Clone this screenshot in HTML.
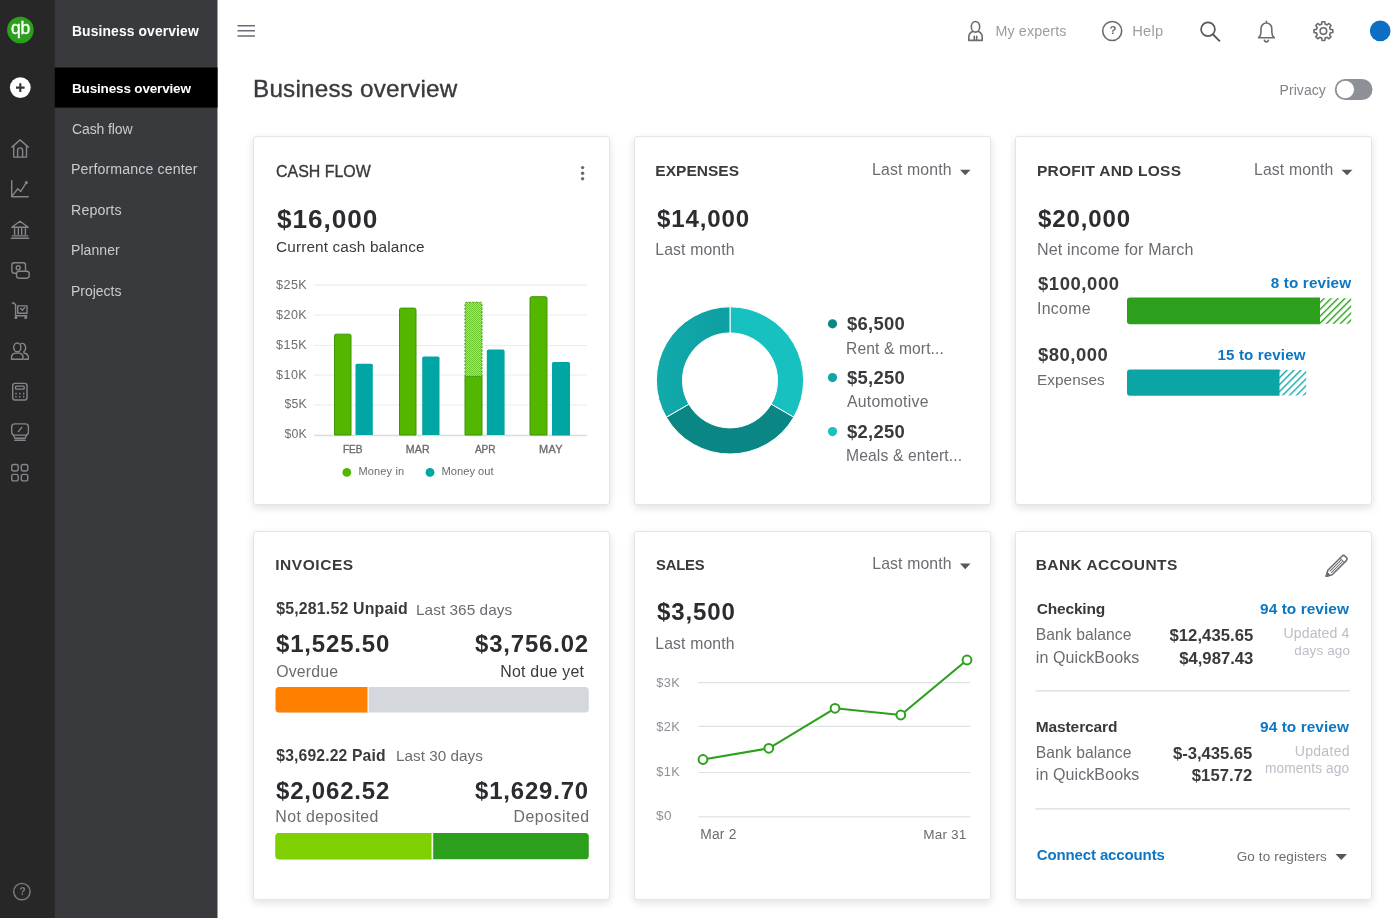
<!DOCTYPE html>
<html lang="en">
<head>
<meta charset="utf-8">
<title>Business overview</title>
<style>
*{box-sizing:border-box;margin:0;padding:0}
html,body{width:1400px;height:918px;overflow:hidden;background:#fff;font-family:"Liberation Sans",sans-serif;color:#393a3d}
body{position:relative}
.t{position:absolute;white-space:nowrap;line-height:1;font-kerning:normal;transform-origin:0 50%}
.card{position:absolute;width:357px;height:369px;background:#fff;border:1px solid #e4e5e8;border-radius:3px;box-shadow:0 3px 9px rgba(0,0,0,.12)}
#gfx{position:absolute;left:0;top:0;width:1400px;height:918px}
</style>
</head>
<body>
<div class="card" style="left:253px;top:136px"></div>
<div class="card" style="left:634px;top:136px"></div>
<div class="card" style="left:1015px;top:136px"></div>
<div class="card" style="left:253px;top:531px"></div>
<div class="card" style="left:634px;top:531px"></div>
<div class="card" style="left:1015px;top:531px"></div>
<svg id="gfx" viewBox="0 0 1400 918" width="1400" height="918">
<defs>
<pattern id="hg" width="4.9" height="4.9" patternUnits="userSpaceOnUse" patternTransform="rotate(-45)"><rect width="4.9" height="4.9" fill="#fff"/><rect width="4.9" height="1.35" fill="#2ca01c"/></pattern>
<pattern id="ht" width="4.9" height="4.9" patternUnits="userSpaceOnUse" patternTransform="rotate(-45)"><rect width="4.9" height="4.9" fill="#fff"/><rect width="4.9" height="1.35" fill="#0ca5a5"/></pattern>
<pattern id="hx" width="2" height="2" patternUnits="userSpaceOnUse"><rect width="2" height="2" fill="#a9e47a"/><rect width="1" height="1" fill="#6cc62e"/><rect x="1" y="1" width="1" height="1" fill="#6cc62e"/></pattern>
<linearGradient id="dg" gradientUnits="userSpaceOnUse" x1="656" y1="0" x2="730" y2="0"><stop offset="0" stop-color="#12aaab"/><stop offset="1" stop-color="#0d9fa2"/></linearGradient>
</defs>
<rect id="bgside" x="0" y="0" width="217.5" height="918" fill="#393a3d"/>
<rect x="0" y="0" width="54.8" height="918" fill="#272727"/>
<rect x="54.8" y="67.5" width="162.7" height="40.1" fill="#000"/>
<!-- rail: logo + plus -->
<circle cx="20.4" cy="30" r="13.3" fill="#2ca01c"/>
<circle cx="20.3" cy="87.6" r="10.4" fill="#fff"/>
<path d="M16 87.6H24.6M20.3 83.3V91.9" stroke="#333437" stroke-width="2.1" fill="none"/>
<!-- rail icons -->
<g fill="none" stroke="#84868b" stroke-width="1.4" stroke-linecap="round" stroke-linejoin="round">
<path d="M11.9 147.1L20.1 139.9L28.3 147.1M13.7 146V157.1H26.5V146M17.6 157.1V150.4a2.5 2.5 0 0 1 5 0V157.1"/>
<path d="M11.7 180.6V196.8H28.2M12.6 195.4L17.8 188.7L20.7 191.5L25.8 183.4"/>
<circle cx="26.3" cy="182.6" r="0.9" fill="#8d9096"/>
<path d="M11.8 227.2L20 221.2L28.2 227.2ZM14.6 228.6V234.4M18.3 228.6V234.4M21.7 228.6V234.4M25.4 228.6V234.4M12.4 235.9H27.6M11.4 238.3H28.6"/>
<rect x="11.9" y="262.7" width="13.6" height="10.6" rx="2.2"/>
<circle cx="18.2" cy="267.8" r="2"/>
<rect x="16.5" y="271.2" width="12.7" height="7" rx="2.6" fill="#262626"/>
<path d="M12.3 303H13.9L15.6 305V315.7H26.8M17.7 305.9H27V313.3H17.7ZM20.8 308.6L22.3 310.2L24.6 307.6"/>
<circle cx="15.9" cy="317.4" r="0.8"/><circle cx="25.7" cy="317.4" r="0.8"/>
<path d="M21.2 343.6a3.5 4.3 0 0 1 2.6 7.9M23.8 353c2.6 0.3 4.5 2.2 4.5 4.6V359.2H24.3"/>
<ellipse cx="17.3" cy="347.4" rx="3.6" ry="4.4"/>
<path d="M11.5 359.2V357.4a4.3 4.3 0 0 1 4.3-4.3h3a4.3 4.3 0 0 1 4.3 4.3V359.2Z"/>
<rect x="12.7" y="383.4" width="14.3" height="16.6" rx="2.3"/>
<rect x="15.5" y="386.1" width="8.7" height="3" rx="0.8"/>
<path d="M16 393.2V393.9M19.85 393.2V393.9M23.7 393.2V393.9M16 396.4V397.1M19.85 396.4V397.1M23.7 396.4V397.1"/>
<rect x="11.7" y="423.9" width="16.7" height="11.2" rx="3"/>
<path d="M13.4 435.3L14.9 438.2H25.1L26.6 435.3M14.9 440.3H25.1M18.4 431.6L21.7 427.4"/>
<rect x="11.7" y="464.5" width="6.5" height="6.5" rx="2"/><rect x="21.3" y="464.5" width="6.5" height="6.5" rx="2"/>
<rect x="11.7" y="474.4" width="6.5" height="6.5" rx="2"/><rect x="21.3" y="474.4" width="6.5" height="6.5" rx="2"/>
<circle cx="21.9" cy="891.6" r="8.2" stroke="#7b7d82"/>
</g>
<!-- top bar -->
<g fill="none" stroke="#6b6c72" stroke-width="1.6" stroke-linecap="round" stroke-linejoin="round">
<path d="M237.5 25.8H255M237.5 30.8H255M237.5 36H255" stroke-linecap="butt"/>
<ellipse cx="975.5" cy="26.8" rx="4.2" ry="5.3"/>
<path d="M972.6 31.6c-2.3 1-3.8 2.9-3.8 5.6V40.4H982.2V37.2c0-2.7-1.5-4.6-3.8-5.600M974.3 36.200V40.200M976.7 36.200V40.200"/>
<circle cx="1112.2" cy="31" r="9.5"/>
<circle cx="1208" cy="29.2" r="6.900" stroke="#55575c" stroke-width="1.7"/>
<path d="M1213.100 34.500L1219.400 40.800" stroke="#55575c" stroke-width="1.9"/>
<path d="M1266.4 21.2V22.6M1258.6 37.7c1.9-1.5 2.4-3.2 2.4-5.7v-3.6a5.4 5.4 0 0 1 10.8 0v3.6c0 2.5 0.5 4.2 2.4 5.700ZM1264.400 40.3a2.050 2.050 0 0 0 4 0"/>
<circle cx="1323.400" cy="31.100" r="3.300"/>
<path d="M1321.99 21.71L1324.81 21.71L1325.14 24.11L1327.11 24.93L1329.04 23.46L1331.04 25.46L1329.57 27.39L1330.39 29.36L1332.79 29.69L1332.79 32.51L1330.39 32.84L1329.57 34.81L1331.04 36.74L1329.04 38.74L1327.11 37.27L1325.14 38.09L1324.81 40.49L1321.99 40.49L1321.66 38.09L1319.69 37.27L1317.76 38.74L1315.76 36.74L1317.23 34.81L1316.41 32.84L1314.01 32.51L1314.01 29.69L1316.41 29.36L1317.23 27.39L1315.76 25.46L1317.76 23.46L1319.69 24.93L1321.66 24.11Z"/>
</g>
<circle cx="1380.200" cy="30.900" r="10.300" fill="#0d6fc4"/>
<rect x="1334.800" y="79" width="37.700" height="21" rx="10.500" fill="#8d9096"/>
<circle cx="1345.300" cy="89.500" r="9.200" fill="#fff" stroke="#8d9096" stroke-width="1"/>
<g fill="#6b6c72"><circle cx="582.600" cy="167.600" r="1.700"/><circle cx="582.600" cy="173.200" r="1.700"/><circle cx="582.600" cy="178.700" r="1.700"/></g>
<!-- card 1: cash flow chart -->
<g stroke="#ebeced" stroke-width="1.2" fill="none">
<path d="M314 285.200H587M314 315H587M314 345.500H587M314 375H587M314 405H587"/>
<path d="M314 435.500H587" stroke="#d9dbdf" stroke-width="1.4"/>
</g>
<g stroke="#3f9409" stroke-width="1" fill="#53b700">
<path d="M334.500 435V335.800a1.600 1.600 0 0 1 1.600-1.600h13.300a1.600 1.600 0 0 1 1.600 1.600V435Z"/>
<path d="M399.500 435V309.700a1.600 1.600 0 0 1 1.600-1.600h13.300a1.600 1.600 0 0 1 1.600 1.600V435Z"/>
<path d="M465 435V376.300H482V435Z"/>
<path d="M530 435V298.300a1.600 1.600 0 0 1 1.600-1.600h13.800a1.600 1.600 0 0 1 1.600 1.600V435Z"/>
</g>
<path d="M465 376.300V303.900a1.600 1.600 0 0 1 1.600-1.600h13.800a1.600 1.600 0 0 1 1.600 1.600V376.300Z" fill="url(#hx)" stroke="#3f9409" stroke-width="1" stroke-dasharray="2 1.500"/>
<g fill="#00a6a4">
<path d="M355.500 435V365.300a1.600 1.600 0 0 1 1.600-1.600h14.100a1.600 1.600 0 0 1 1.600 1.600V435Z"/>
<path d="M422.200 435V358.200a1.600 1.600 0 0 1 1.600-1.600h14.100a1.600 1.600 0 0 1 1.600 1.600V435Z"/>
<path d="M486.800 435V351a1.600 1.600 0 0 1 1.600-1.600h14.600a1.600 1.600 0 0 1 1.600 1.600V435Z"/>
<path d="M552 435.600V363.700a1.600 1.600 0 0 1 1.600-1.600h14.800a1.600 1.600 0 0 1 1.600 1.600V435.600Z"/>
</g>
<circle cx="346.800" cy="472.400" r="4.400" fill="#53b700"/>
<circle cx="430" cy="472.400" r="4.400" fill="#00a6a4"/>
<!-- card 2: donut -->
<g stroke="#fff" stroke-width="1" stroke-linejoin="round">
<path d="M730.00 306.80A73.6 73.6 0 0 1 793.74 417.20L771.14 404.15A47.5 47.5 0 0 0 730.00 332.90Z" fill="#17c1c0"/>
<path d="M793.74 417.20A73.6 73.6 0 0 1 666.26 417.20L688.86 404.15A47.5 47.5 0 0 0 771.14 404.15Z" fill="#0a8784"/>
<path d="M666.26 417.20A73.6 73.6 0 0 1 730.00 306.80L730.00 332.90A47.5 47.5 0 0 0 688.86 404.15Z" fill="url(#dg)"/>
</g>
<circle cx="832.500" cy="323.800" r="4.600" fill="#0a8784"/>
<circle cx="832.500" cy="377.600" r="4.600" fill="#10a6a8"/>
<circle cx="832.500" cy="431.600" r="4.600" fill="#17c1c0"/>
<!-- carets -->
<g fill="#55575c">
<path d="M960 169.800H970.500L965.250 175.300Z"/>
<path d="M1341.500 169.800H1352.500L1347 175.300Z"/>
<path d="M960 563.600H970.500L965.250 569.300Z"/>
<path d="M1335.500 853.900H1347L1341.250 860Z"/>
</g>
<!-- card 3: P&L bars -->
<rect x="1319" y="298.200" width="32.200" height="25.600" fill="url(#hg)"/>
<path d="M1130 297.600H1320V324.200H1130a3 3 0 0 1-3-3V300.600a3 3 0 0 1 3-3Z" fill="#2ca01c"/>
<rect x="1278.500" y="370" width="27.700" height="25.400" fill="url(#ht)"/>
<path d="M1130 369.400H1279.500V395.800H1130a3 3 0 0 1-3-3V372.400a3 3 0 0 1 3-3Z" fill="#0ca5a5"/>
<!-- card 4: invoice bars -->
<rect x="275.600" y="687" width="313.200" height="25.600" rx="3.500" fill="#d4d7dc"/>
<path d="M279.100 687H367.600V712.600H279.100a3.500 3.500 0 0 1-3.500-3.500V690.500a3.500 3.500 0 0 1 3.500-3.500Z" fill="#ff8000"/>
<rect x="367.600" y="687" width="1.400" height="25.600" fill="#f4f0ea"/>
<rect x="275.600" y="833" width="313.200" height="26.200" rx="3.500" fill="#2ca01c"/>
<path d="M279.100 833H431.400V859.200H279.100a3.500 3.500 0 0 1-3.500-3.500V836.500a3.500 3.500 0 0 1 3.500-3.500Z" fill="#7fd000"/>
<rect x="431.400" y="833" width="1.800" height="26.200" fill="#f2f8ea"/>
<!-- card 5: sales -->
<g stroke="#dfe1e4" stroke-width="1.200" fill="none">
<path d="M698 682.600H970M698 726.400H970M698 772.500H970M698 816.800H970"/>
</g>
<path d="M703 759.500L768.800 748.300L835 708.300L900.800 715L967 660" fill="none" stroke="#2ca01c" stroke-width="2.100" stroke-linejoin="round"/>
<g fill="#fff" stroke="#2ca01c" stroke-width="2">
<circle cx="703" cy="759.500" r="4.400"/><circle cx="768.800" cy="748.300" r="4.400"/><circle cx="835" cy="708.300" r="4.400"/><circle cx="900.800" cy="715" r="4.400"/><circle cx="967" cy="660" r="4.400"/>
</g>
<!-- card 6 -->
<path d="M1035.500 690.800H1350M1035.500 808.800H1350" stroke="#d9dbdf" stroke-width="1.200" fill="none"/>
<g fill="none" stroke="#6b6c72" stroke-width="1.500" stroke-linejoin="round" stroke-linecap="round">
<g transform="translate(1326.2 576.3) rotate(-45)"><path d="M0 0L5.4-3.1H25.3a2.3 2.3 0 0 1 2.3 2.3V0.8a2.3 2.3 0 0 1-2.3 2.3H5.4Z"/><path d="M0 0L3.2-1.75V1.75Z" fill="#6b6c72"/><path d="M6.3-1.05H21.6M6.300 1.05H21.6M22.600-3.1V3.1" stroke-width="1"/></g>
</g>
</svg>
<nav aria-label="Business overview navigation">
<div class="t" style="left:72.00px;top:24.68px;font-size:13.85px;color:#fff;letter-spacing:0.126px;font-weight:bold;">Business overview</div>
<div class="t" style="left:72.00px;top:81.57px;font-size:13.5px;color:#fff;letter-spacing:-0.162px;font-weight:bold;">Business overview</div>
<div class="t" style="left:72.00px;top:121.65px;font-size:14.0px;color:#c9cbcf;letter-spacing:-0.120px;">Cash flow</div>
<div class="t" style="left:71.00px;top:162.30px;font-size:14.18px;color:#c9cbcf;letter-spacing:0.116px;">Performance center</div>
<div class="t" style="left:71.00px;top:202.59px;font-size:14.19px;color:#c9cbcf;letter-spacing:0.136px;">Reports</div>
<div class="t" style="left:71.00px;top:243.45px;font-size:14.0px;color:#c9cbcf;letter-spacing:0.068px;">Planner</div>
<div class="t" style="left:71.00px;top:283.75px;font-size:14.0px;color:#c9cbcf;letter-spacing:-0.025px;">Projects</div>
</nav>
<aside aria-label="App rail">
<div class="t" style="left:11.20px;top:18.94px;font-size:18.5px;color:#fff;letter-spacing:-0.222px;transform:scaleX(0.9468);-webkit-text-stroke:0.35px #fff;">qb</div>
<div class="t" style="left:19.60px;top:886.74px;font-size:10px;color:#7b7d82;font-weight:bold;">?</div>
</aside>
<header aria-label="Top bar">
<div class="t" style="left:1109.60px;top:25.47px;font-size:11.5px;color:#6b6c72;font-weight:bold;">?</div>
<div class="t" style="left:995.50px;top:24.22px;font-size:14.27px;color:#9a9da3;letter-spacing:0.130px;">My experts</div>
<div class="t" style="left:1132.20px;top:23.88px;font-size:14.67px;color:#9a9da3;letter-spacing:0.269px;">Help</div>
<div class="t" style="left:253.00px;top:76.98px;font-size:24.24px;color:#393a3d;letter-spacing:0.219px;-webkit-text-stroke:0.35px #393a3d;">Business overview</div>
<div class="t" style="left:1279.60px;top:83.15px;font-size:14.0px;color:#808389;letter-spacing:0.051px;">Privacy</div>
</header>
<section aria-label="Cash flow">
<div class="t" style="left:276.00px;top:163.90px;font-size:15.95px;color:#393a3d;-webkit-text-stroke:0.35px #393a3d;">CASH FLOW</div>
<div class="t" style="left:276.60px;top:206.98px;font-size:25.9px;color:#2b2c2f;letter-spacing:0.906px;transform:scaleX(1.0119);font-weight:bold;">$16,000</div>
<div class="t" style="left:276.00px;top:239.10px;font-size:15.36px;color:#393a3d;letter-spacing:0.134px;">Current cash balance</div>
<div class="t" style="left:276.20px;top:279.36px;font-size:12.33px;color:#6b6c72;letter-spacing:0.432px;transform:scaleX(1.0206);">$25K</div>
<div class="t" style="left:276.20px;top:309.16px;font-size:12.33px;color:#6b6c72;letter-spacing:0.432px;transform:scaleX(1.0206);">$20K</div>
<div class="t" style="left:276.20px;top:338.56px;font-size:12.33px;color:#6b6c72;letter-spacing:0.432px;transform:scaleX(1.0206);">$15K</div>
<div class="t" style="left:276.20px;top:369.16px;font-size:12.33px;color:#6b6c72;letter-spacing:0.432px;transform:scaleX(1.0206);">$10K</div>
<div class="t" style="left:284.40px;top:397.76px;font-size:12.33px;color:#6b6c72;letter-spacing:0.194px;">$5K</div>
<div class="t" style="left:284.40px;top:427.56px;font-size:12.33px;color:#6b6c72;letter-spacing:0.194px;">$0K</div>
<div class="t" style="left:342.70px;top:443.57px;font-size:10.67px;color:#6b6c72;letter-spacing:-0.128px;transform:scaleX(0.9479);-webkit-text-stroke:0.35px #6b6c72;">FEB</div>
<div class="t" style="left:405.80px;top:443.57px;font-size:10.67px;color:#6b6c72;letter-spacing:0.108px;-webkit-text-stroke:0.35px #6b6c72;">MAR</div>
<div class="t" style="left:475.00px;top:443.57px;font-size:10.67px;color:#6b6c72;letter-spacing:-0.128px;transform:scaleX(0.9427);-webkit-text-stroke:0.35px #6b6c72;">APR</div>
<div class="t" style="left:539.00px;top:443.57px;font-size:10.67px;color:#6b6c72;letter-spacing:0.373px;transform:scaleX(1.0244);-webkit-text-stroke:0.35px #6b6c72;">MAY</div>
<div class="t" style="left:358.50px;top:466.19px;font-size:11.0px;color:#6b6c72;letter-spacing:0.141px;">Money in</div>
<div class="t" style="left:441.50px;top:466.05px;font-size:11.16px;color:#6b6c72;">Money out</div>
</section>
<section aria-label="Expenses">
<div class="t" style="left:655.25px;top:163.13px;font-size:15.5px;color:#393a3d;letter-spacing:0.039px;font-weight:bold;">EXPENSES</div>
<div class="t" style="left:872.00px;top:161.63px;font-size:15.8px;color:#6b6c72;letter-spacing:0.154px;">Last month</div>
<div class="t" style="left:656.75px;top:208.09px;font-size:23.52px;color:#2b2c2f;letter-spacing:0.823px;transform:scaleX(1.0238);font-weight:bold;">$14,000</div>
<div class="t" style="left:655.25px;top:242.17px;font-size:15.75px;color:#6b6c72;letter-spacing:0.149px;">Last month</div>
<div class="t" style="left:847.00px;top:314.79px;font-size:18.44px;color:#393a3d;letter-spacing:0.272px;font-weight:bold;">$6,500</div>
<div class="t" style="left:846.00px;top:341.04px;font-size:15.61px;color:#6b6c72;letter-spacing:0.119px;">Rent &amp; mort...</div>
<div class="t" style="left:847.00px;top:368.59px;font-size:18.44px;color:#393a3d;letter-spacing:0.272px;font-weight:bold;">$5,250</div>
<div class="t" style="left:847.00px;top:394.15px;font-size:15.77px;color:#6b6c72;letter-spacing:0.295px;">Automotive</div>
<div class="t" style="left:847.00px;top:423.39px;font-size:18.44px;color:#393a3d;letter-spacing:0.272px;font-weight:bold;">$2,250</div>
<div class="t" style="left:846.00px;top:447.96px;font-size:15.7px;color:#6b6c72;letter-spacing:0.118px;">Meals &amp; entert...</div>
</section>
<section aria-label="Profit and loss">
<div class="t" style="left:1037.00px;top:163.13px;font-size:15.5px;color:#393a3d;letter-spacing:0.240px;font-weight:bold;">PROFIT AND LOSS</div>
<div class="t" style="left:1254.00px;top:161.67px;font-size:15.75px;color:#6b6c72;letter-spacing:0.149px;">Last month</div>
<div class="t" style="left:1038.00px;top:208.09px;font-size:23.52px;color:#2b2c2f;letter-spacing:0.823px;transform:scaleX(1.0238);font-weight:bold;">$20,000</div>
<div class="t" style="left:1037.00px;top:241.38px;font-size:16.09px;color:#6b6c72;letter-spacing:0.145px;">Net income for March</div>
<div class="t" style="left:1038.00px;top:274.69px;font-size:18.44px;color:#393a3d;letter-spacing:0.586px;font-weight:bold;">$100,000</div>
<div class="t" style="left:1270.75px;top:275.07px;font-size:15.27px;color:#0d77c2;letter-spacing:0.147px;font-weight:bold;">8 to review</div>
<div class="t" style="left:1037.00px;top:301.31px;font-size:15.88px;color:#6b6c72;letter-spacing:0.304px;">Income</div>
<div class="t" style="left:1038.00px;top:346.39px;font-size:18.44px;color:#393a3d;letter-spacing:0.518px;font-weight:bold;">$80,000</div>
<div class="t" style="left:1217.50px;top:346.70px;font-size:15.12px;color:#0d77c2;letter-spacing:0.136px;font-weight:bold;">15 to review</div>
<div class="t" style="left:1037.00px;top:372.10px;font-size:15.36px;color:#6b6c72;letter-spacing:0.032px;">Expenses</div>
</section>
<section aria-label="Invoices">
<div class="t" style="left:275.25px;top:556.88px;font-size:15.5px;color:#393a3d;letter-spacing:0.542px;font-weight:bold;">INVOICES</div>
<div class="t" style="left:276.25px;top:601.05px;font-size:15.89px;color:#393a3d;letter-spacing:0.175px;font-weight:bold;">$5,281.52 Unpaid</div>
<div class="t" style="left:416.00px;top:601.51px;font-size:15.35px;color:#6b6c72;letter-spacing:0.053px;">Last 365 days</div>
<div class="t" style="left:276.25px;top:632.59px;font-size:23.52px;color:#2b2c2f;letter-spacing:0.823px;transform:scaleX(1.0191);font-weight:bold;">$1,525.50</div>
<div class="t" style="left:475.00px;top:632.59px;font-size:23.52px;color:#2b2c2f;letter-spacing:0.823px;transform:scaleX(1.0169);font-weight:bold;">$3,756.02</div>
<div class="t" style="left:276.25px;top:664.31px;font-size:15.88px;color:#6b6c72;letter-spacing:0.157px;">Overdue</div>
<div class="t" style="left:500.25px;top:664.31px;font-size:15.88px;color:#393a3d;letter-spacing:0.247px;">Not due yet</div>
<div class="t" style="left:276.25px;top:747.97px;font-size:15.69px;color:#393a3d;letter-spacing:0.158px;font-weight:bold;">$3,692.22 Paid</div>
<div class="t" style="left:396.00px;top:748.34px;font-size:15.25px;color:#6b6c72;letter-spacing:0.036px;">Last 30 days</div>
<div class="t" style="left:276.25px;top:779.84px;font-size:23.52px;color:#2b2c2f;letter-spacing:0.823px;transform:scaleX(1.0191);font-weight:bold;">$2,062.52</div>
<div class="t" style="left:475.00px;top:779.84px;font-size:23.52px;color:#2b2c2f;letter-spacing:0.823px;transform:scaleX(1.0169);font-weight:bold;">$1,629.70</div>
<div class="t" style="left:275.25px;top:809.06px;font-size:15.88px;color:#6b6c72;letter-spacing:0.426px;">Not deposited</div>
<div class="t" style="left:513.50px;top:809.06px;font-size:15.88px;color:#6b6c72;letter-spacing:0.512px;">Deposited</div>
</section>
<section aria-label="Sales">
<div class="t" style="left:656.25px;top:556.88px;font-size:15.5px;color:#393a3d;letter-spacing:-0.186px;transform:scaleX(0.9537);font-weight:bold;">SALES</div>
<div class="t" style="left:872.25px;top:556.17px;font-size:15.75px;color:#6b6c72;letter-spacing:0.149px;">Last month</div>
<div class="t" style="left:656.75px;top:600.84px;font-size:23.52px;color:#2b2c2f;letter-spacing:0.823px;transform:scaleX(1.0235);font-weight:bold;">$3,500</div>
<div class="t" style="left:655.25px;top:636.17px;font-size:15.75px;color:#6b6c72;letter-spacing:0.149px;">Last month</div>
<div class="t" style="left:656.25px;top:676.97px;font-size:12.74px;color:#8d9096;letter-spacing:0.443px;">$3K</div>
<div class="t" style="left:656.25px;top:721.47px;font-size:12.74px;color:#8d9096;letter-spacing:0.443px;">$2K</div>
<div class="t" style="left:656.25px;top:766.47px;font-size:12.74px;color:#8d9096;letter-spacing:0.443px;">$1K</div>
<div class="t" style="left:656.25px;top:809.97px;font-size:12.74px;color:#8d9096;letter-spacing:0.446px;transform:scaleX(1.0669);">$0</div>
<div class="t" style="left:700.25px;top:828.06px;font-size:13.81px;color:#6b6c72;letter-spacing:0.227px;">Mar 2</div>
<div class="t" style="left:923.25px;top:828.28px;font-size:13.55px;color:#6b6c72;letter-spacing:0.174px;">Mar 31</div>
</section>
<section aria-label="Bank accounts">
<div class="t" style="left:1035.75px;top:556.88px;font-size:15.5px;color:#393a3d;letter-spacing:0.431px;font-weight:bold;">BANK ACCOUNTS</div>
<div class="t" style="left:1036.75px;top:601.13px;font-size:15.5px;color:#393a3d;letter-spacing:-0.186px;font-weight:bold;">Checking</div>
<div class="t" style="left:1260.00px;top:601.20px;font-size:15.42px;color:#0d77c2;letter-spacing:0.071px;font-weight:bold;">94 to review</div>
<div class="t" style="left:1035.75px;top:627.24px;font-size:15.67px;color:#6b6c72;letter-spacing:0.075px;">Bank balance</div>
<div class="t" style="left:1169.50px;top:628.13px;font-size:16.68px;color:#393a3d;letter-spacing:0.037px;font-weight:bold;">$12,435.65</div>
<div class="t" style="left:1283.50px;top:625.62px;font-size:14.04px;color:#babec5;letter-spacing:0.132px;">Updated 4</div>
<div class="t" style="left:1035.75px;top:648.91px;font-size:16.05px;color:#6b6c72;letter-spacing:0.088px;">in QuickBooks</div>
<div class="t" style="left:1179.25px;top:650.63px;font-size:16.68px;color:#393a3d;letter-spacing:-0.018px;font-weight:bold;">$4,987.43</div>
<div class="t" style="left:1294.25px;top:643.60px;font-size:13.47px;color:#babec5;letter-spacing:0.154px;">days ago</div>
<div class="t" style="left:1035.75px;top:719.38px;font-size:15.5px;color:#393a3d;letter-spacing:-0.110px;font-weight:bold;">Mastercard</div>
<div class="t" style="left:1260.00px;top:719.45px;font-size:15.42px;color:#0d77c2;letter-spacing:0.071px;font-weight:bold;">94 to review</div>
<div class="t" style="left:1035.75px;top:744.74px;font-size:15.67px;color:#6b6c72;letter-spacing:0.075px;">Bank balance</div>
<div class="t" style="left:1173.00px;top:746.13px;font-size:16.68px;color:#393a3d;letter-spacing:-0.050px;font-weight:bold;">$-3,435.65</div>
<div class="t" style="left:1294.75px;top:744.37px;font-size:14.04px;color:#babec5;letter-spacing:0.292px;">Updated</div>
<div class="t" style="left:1035.75px;top:766.41px;font-size:16.05px;color:#6b6c72;letter-spacing:0.088px;">in QuickBooks</div>
<div class="t" style="left:1191.75px;top:768.13px;font-size:16.68px;color:#393a3d;letter-spacing:0.043px;font-weight:bold;">$157.72</div>
<div class="t" style="left:1265.00px;top:761.59px;font-size:13.78px;color:#babec5;letter-spacing:0.076px;">moments ago</div>
<div class="t" style="left:1036.75px;top:847.30px;font-size:15.0px;color:#0d77c2;letter-spacing:-0.128px;font-weight:bold;">Connect accounts</div>
<div class="t" style="left:1236.75px;top:850.31px;font-size:13.52px;color:#6b6c72;letter-spacing:0.098px;">Go to registers</div>
</section>
</body>
</html>
